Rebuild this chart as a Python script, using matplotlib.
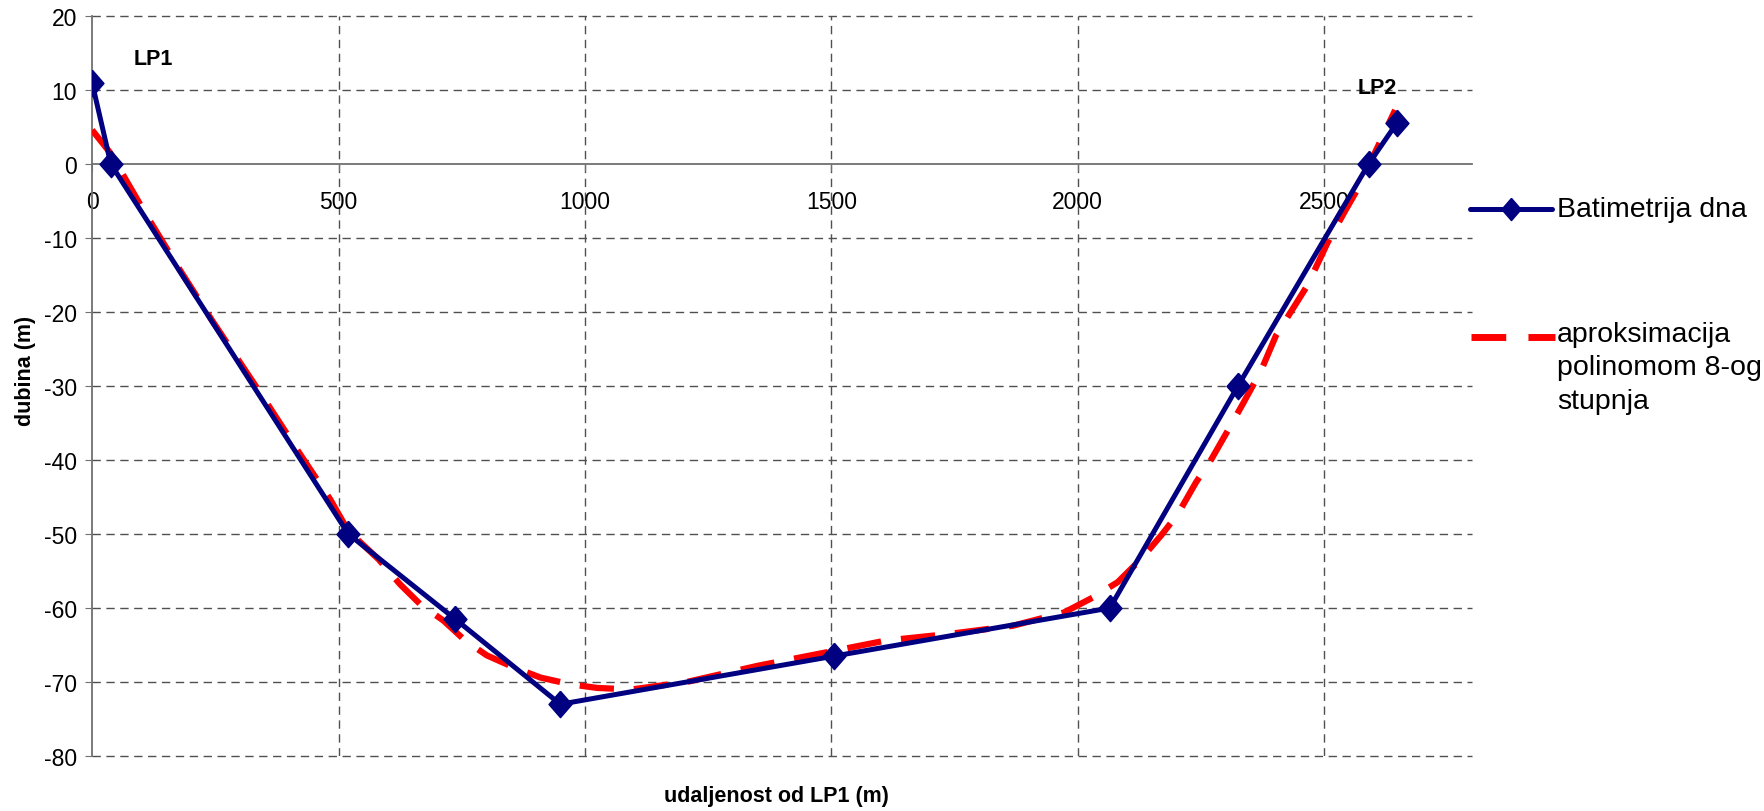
import matplotlib.pyplot as plt
from matplotlib.lines import Line2D

plt.rcParams['font.family'] = ['Liberation Sans', 'DejaVu Sans']
plt.rcParams['axes.unicode_minus'] = False

# izmjerena batimetrija
dist = [0, 38, 520, 737, 950, 1505, 2065, 2325, 2590, 2648]
depth = [11.0, 0.0, -50.0, -61.5, -73.0, -66.5, -60.0, -30.0, 0.0, 5.6]

# polinom 8-og stupnja (ocitano sa slike)
fit_x = [0, 37, 111, 179, 246, 307, 345, 422, 483, 520, 581, 625, 666, 713,
         757, 801, 855, 910, 970, 1025, 1095, 1206, 1351, 1504, 1610, 1739,
         1868, 1972, 2030, 2081, 2128, 2169, 2203, 2240, 2271, 2308, 2335,
         2372, 2402, 2466, 2507, 2541, 2572, 2602, 2644]
fit_y = [4.6, 1.5, -7.0, -14.4, -21.4, -27.5, -31.3, -39.2, -45.3, -49.6,
         -53.4, -56.8, -59.5, -61.7, -64.4, -66.4, -68.0, -69.4, -70.3, -70.8,
         -71.0, -70.0, -67.8, -65.8, -64.4, -63.5, -62.4, -60.6, -58.6, -56.5,
         -53.4, -50.2, -47.3, -43.0, -39.9, -35.6, -32.4, -27.9, -23.2, -16.4,
         -10.6, -6.5, -2.9, 1.4, 7.3]

xticks = [0, 500, 1000, 1500, 2000, 2500]
yticks = list(range(-80, 30, 10))

navy = '#000080'
red = '#ff0000'
grid_c = '#505050'
diamond = [(0, 1.15), (1, 0), (0, -1.15), (-1, 0), (0, 1.15)]

fig = plt.figure(figsize=(17.64, 8.12), dpi=100)
ax = fig.add_axes([0.0522, 0.0677, 0.7823, 0.9113])

ax.plot(fit_x, fit_y, color=red, lw=4.5, dashes=(5.5, 3.2), zorder=3)
ax.plot(dist, depth, color=navy, lw=3.6, marker=diamond, ms=19, zorder=4)

ax.set_xlim(0, 2800)
ax.set_ylim(-80, 20)
ax.set_xticks(xticks)
ax.set_yticks(yticks)

for v in xticks[1:]:
    ax.axvline(v, color=grid_c, lw=1.0, dashes=(6, 4), zorder=1)
for v in yticks:
    if v != 0:
        ax.axhline(v, color=grid_c, lw=1.0, dashes=(6, 4), zorder=1, clip_on=False)

ax.spines['top'].set_visible(False)
ax.spines['right'].set_visible(False)
ax.spines['bottom'].set_position(('data', 0))
ax.spines['bottom'].set_color('#707070')
ax.spines['left'].set_color('#707070')
ax.spines['bottom'].set_linewidth(1.3)
ax.spines['left'].set_linewidth(1.3)

ax.tick_params(axis='x', direction='out', length=5, pad=14, labelsize=16.5,
               color='#707070')
ax.tick_params(axis='y', direction='out', length=5, pad=6, labelsize=16.5,
               color='#707070')

ax.text(125, 14.2, 'LP1', fontsize=15.5, fontweight='bold', ha='center', va='center')
ax.text(2608, 10.4, 'LP2', fontsize=15.5, fontweight='bold', ha='center', va='center')

fig.text(0.0142, 0.543, 'dubina (m)', rotation=90, fontsize=15.5, fontweight='bold',
         ha='center', va='center')
fig.text(0.44, 0.0185, 'udaljenost od LP1 (m)', fontsize=15.5, fontweight='bold',
         ha='center', va='center')

# legenda
fig.add_artist(Line2D([0.8333, 0.8798], [0.7414, 0.7414], color=navy, lw=3.6,
                      solid_capstyle='round'))
fig.add_artist(Line2D([0.8566], [0.7414], color=navy, marker=diamond, ms=16))
fig.text(0.8827, 0.7414, 'Batimetrija dna', fontsize=20.5, va='center')
fig.add_artist(Line2D([0.8339, 0.8815], [0.5837, 0.5837], color=red, lw=5,
                      dashes=(5, 3.2)))
fig.text(0.8827, 0.604, 'aproksimacija\npolinomom 8-og\nstupnja', fontsize=20.5,
         va='top', linespacing=1.38)

fig.savefig('out.png', dpi=100)
